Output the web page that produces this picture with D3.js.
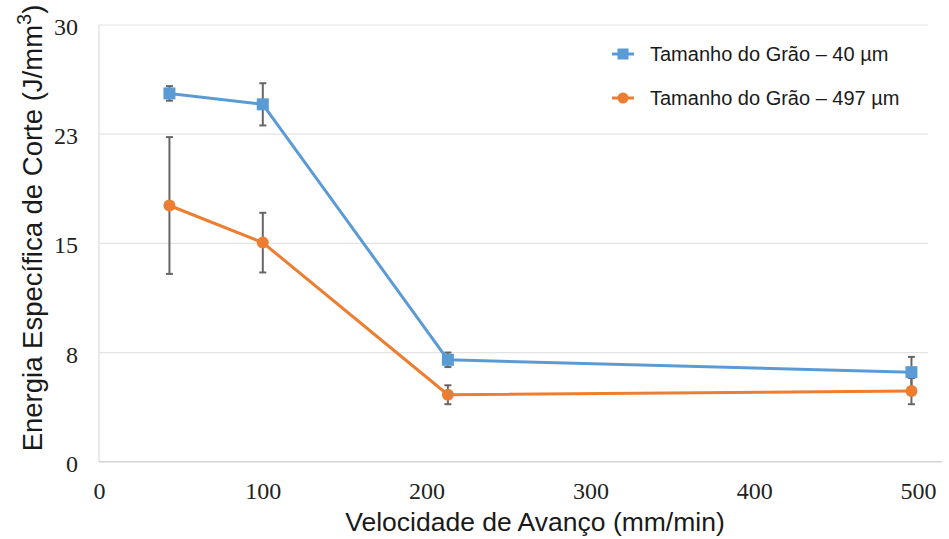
<!DOCTYPE html>
<html>
<head>
<meta charset="utf-8">
<script src="https://cdn.jsdelivr.net/npm/d3@7"></script>
<style>
  html, body { margin: 0; padding: 0; background: #ffffff; }
  svg { display: block; }
</style>
</head>
<body>
<svg id="chart" width="949" height="539"></svg>
<script>
// Feed rate (mm/min)
const feedRates = [43, 100, 213, 496];

// Specific cutting energy (J/mm³) per grain size, with error bar half-widths
const energy40 = [25.3, 24.55, 7.0, 6.15];
const error40 = [0.5, 1.45, 0.5, 1.05];
const energy497 = [17.6, 15.05, 4.6, 4.85];
const error497 = [4.7, 2.05, 0.65, 0.9];

const seriesNames = ["Tamanho do Grão – 40 µm", "Tamanho do Grão – 497 µm"];

// Axis ticks
const xTickValues = [0, 100, 200, 300, 400, 500];
const yTickValues = [0, 7.5, 15, 22.5, 30];
const yTickLabels = ["0", "8", "15", "23", "30"];

const serif = "Liberation Serif";
const sans = "Liberation Sans";

const svg = d3.select("#chart");

const x = d3.scaleLinear().domain([0, 500]).range([99, 918]);
const y = d3.scaleLinear().domain([0, 30]).range([461.7, 25]);

const plotRight = 928;

// Horizontal gridlines
svg.append("g")
  .selectAll("line")
  .data(yTickValues.filter(d => d > 0))
  .join("line")
  .attr("x1", x(0)).attr("x2", plotRight)
  .attr("y1", d => y(d)).attr("y2", d => y(d))
  .attr("stroke", "#e3e3e3").attr("stroke-width", 1.2);

// Axis lines
svg.append("line")
  .attr("x1", x(0)).attr("x2", x(0))
  .attr("y1", y(30)).attr("y2", y(0))
  .attr("stroke", "#dcdcdc").attr("stroke-width", 1.2);
svg.append("line")
  .attr("x1", x(0)).attr("x2", 942)
  .attr("y1", y(0)).attr("y2", y(0))
  .attr("stroke", "#d4d4d4").attr("stroke-width", 1.4);

// X axis tick labels
const xAxis = svg.append("g")
  .attr("transform", `translate(0,${y(0)})`)
  .call(d3.axisBottom(x).tickValues(xTickValues).tickSize(0).tickPadding(20).tickFormat(d3.format("d")));
xAxis.attr("font-family", null).attr("font-size", null);
xAxis.select(".domain").remove();
xAxis.selectAll("text")
  .style("font-family", serif)
  .style("font-size", "24px")
  .attr("fill", "#222");

// Y axis tick labels
const yAxis = svg.append("g")
  .attr("transform", `translate(${x(0)},0)`)
  .call(d3.axisLeft(y).tickValues(yTickValues).tickSize(0).tickPadding(21)
    .tickFormat((d, i) => yTickLabels[i]));
yAxis.attr("font-family", null).attr("font-size", null);
yAxis.select(".domain").remove();
yAxis.selectAll("text")
  .style("font-family", serif)
  .style("font-size", "24px")
  .attr("fill", "#222")
  .attr("dy", "0.4em");

// Axis titles
svg.append("text")
  .attr("x", 535).attr("y", 531)
  .attr("text-anchor", "middle")
  .style("font-family", sans)
  .style("font-size", "26.5px")
  .attr("fill", "#1a1a1a")
  .text("Velocidade de Avanço (mm/min)");

const yTitle = svg.append("text")
  .attr("transform", "translate(42,228) rotate(-90)")
  .attr("text-anchor", "middle")
  .style("font-family", sans)
  .style("font-size", "27.5px")
  .attr("fill", "#1a1a1a");
yTitle.append("tspan").text("Energia Específica de Corte (J/mm");
yTitle.append("tspan").attr("baseline-shift", "super").style("font-size", "20px").text("3");
yTitle.append("tspan").text(")");

const series = [
  { name: seriesNames[0], values: energy40, errors: error40, color: "#5b9bd5", shape: "square" },
  { name: seriesNames[1], values: energy497, errors: error497, color: "#ed7d31", shape: "circle" }
];

// Error bars
series.forEach(s => {
  const g = svg.append("g").attr("stroke", "#666").attr("stroke-width", 2);
  feedRates.forEach((f, i) => {
    const cx = x(f);
    const yTop = y(s.values[i] + s.errors[i]);
    const yBot = y(s.values[i] - s.errors[i]);
    g.append("line").attr("x1", cx).attr("x2", cx).attr("y1", yTop).attr("y2", yBot);
    g.append("line").attr("x1", cx - 3.5).attr("x2", cx + 3.5).attr("y1", yTop).attr("y2", yTop);
    g.append("line").attr("x1", cx - 3.5).attr("x2", cx + 3.5).attr("y1", yBot).attr("y2", yBot);
  });
});

// Lines
const line = d3.line().x(d => x(d[0])).y(d => y(d[1]));
series.forEach(s => {
  svg.append("path")
    .datum(feedRates.map((f, i) => [f, s.values[i]]))
    .attr("d", line)
    .attr("fill", "none")
    .attr("stroke", s.color)
    .attr("stroke-width", 3)
    .attr("stroke-linejoin", "round");
});

// Markers
function drawMarker(g, shape, cx, cy, color, size) {
  if (shape === "square") {
    g.append("rect")
      .attr("x", cx - size / 2).attr("y", cy - size / 2)
      .attr("width", size).attr("height", size)
      .attr("fill", color);
  } else {
    g.append("circle")
      .attr("cx", cx).attr("cy", cy).attr("r", size / 2)
      .attr("fill", color);
  }
}
series.forEach(s => {
  const g = svg.append("g");
  feedRates.forEach((f, i) => drawMarker(g, s.shape, x(f), y(s.values[i]), s.color, 12));
});

// Legend
const legendRows = [54, 98];
series.forEach((s, i) => {
  const g = svg.append("g").attr("transform", `translate(612,${legendRows[i]})`);
  g.append("line").attr("x1", 0).attr("x2", 22).attr("y1", 0).attr("y2", 0)
    .attr("stroke", s.color).attr("stroke-width", 3);
  drawMarker(g, s.shape, 11, 0, s.color, 11);
  g.append("text")
    .attr("x", 38).attr("y", 7)
    .style("font-family", sans)
    .style("font-size", "20px")
    .attr("fill", "#1a1a1a")
    .text(s.name);
});
</script>
</body>
</html>
